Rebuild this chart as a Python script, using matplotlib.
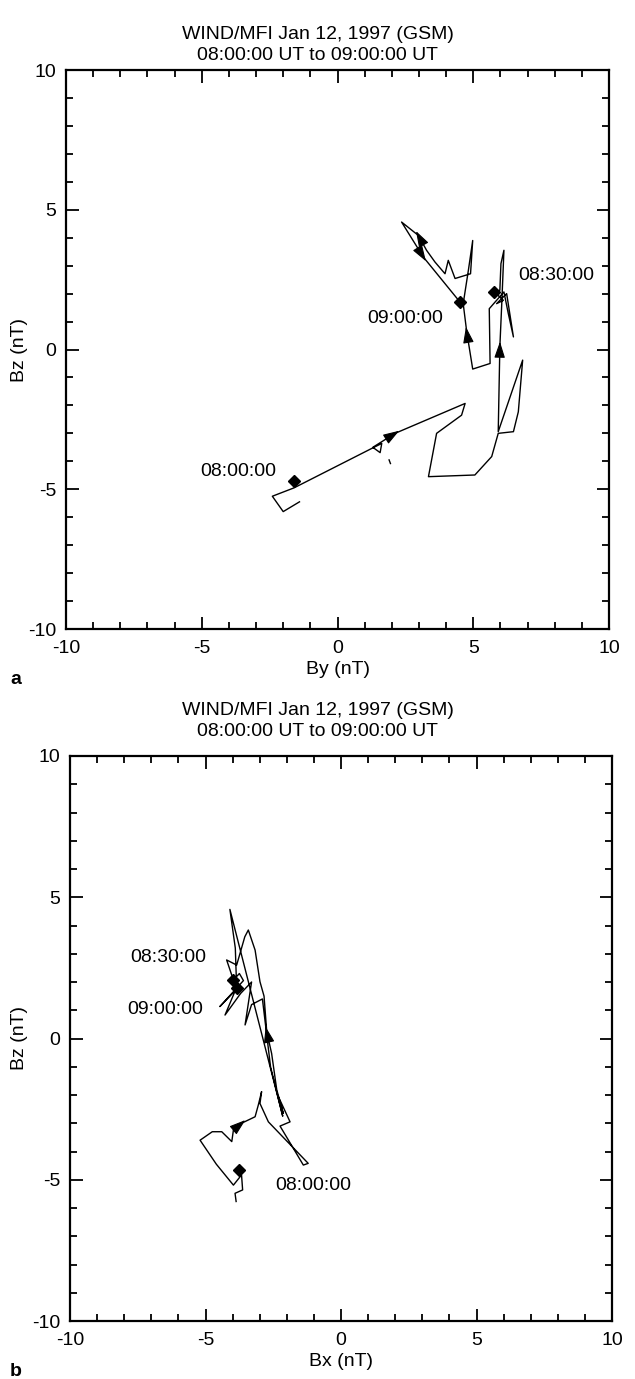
import matplotlib
matplotlib.use('Agg')
import matplotlib.pyplot as plt
from matplotlib.ticker import MultipleLocator
import numpy as np

plt.rcParams['font.family'] = ['Liberation Sans', 'DejaVu Sans']
plt.rcParams['axes.unicode_minus'] = False

# --- data (nT) ---
TITLE_1 = "WIND/MFI Jan 12, 1997 (GSM)"
TITLE_2 = "08:00:00 UT to 09:00:00 UT"

# panel a: By vs Bz trajectory, in time order
by_a = [-1.4, -2.0, -2.4, -1.6, 1.26, 1.63, 1.57, 1.30, 2.12, 4.70, 4.57, 3.65, 3.35,
        5.06, 5.68, 5.92, 6.48, 6.66, 6.82, 5.92, 5.98, 6.05, 6.13, 6.02, 5.98,
        5.78, 6.11, 5.86, 6.23, 6.48, 6.29, 6.13, 5.59, 5.62, 4.98, 4.76, 4.63,
        4.82, 4.98, 4.90, 4.33, 4.08, 3.96, 3.59, 3.28, 2.98, 2.36, 3.16, 4.51]
bz_a = [-5.45, -5.8, -5.25, -4.95, -3.54, -3.36, -3.69, -3.50, -3.0, -1.93, -2.35, -3.0, -4.55,
        -4.49, -3.83, -3.0, -2.94, -2.23, -0.38, -2.94, 0.10, 1.64, 3.55, 3.07, 2.12,
        2.06, 1.76, 1.64, 2.0, 0.45, 1.29, 2.06, 1.46, -0.5, -0.70, 0.63, 1.64,
        2.83, 3.90, 2.71, 2.54, 3.19, 2.71, 3.13, 3.55, 4.08, 4.56, 3.31, 1.70]
gap_by_a = [1.90, 1.95]                 # small stray piece of trace
gap_bz_a = [-3.95, -4.08]
arrows_a = [8, 20, 35, 45, 47]          # vertices where an arrow head sits
marks_a = {"08:00:00": (-1.6, -4.7), "08:30:00": (5.78, 2.06), "09:00:00": (4.51, 1.70)}
labels_a = {"08:00:00": (-3.66, -4.38), "08:30:00": (8.07, 2.65), "09:00:00": (2.49, 1.11)}

# panel b: Bx vs Bz trajectory, in time order
bx_b = [-3.87, -3.91, -3.63, -3.67, -3.97, -4.6, -5.2, -4.75, -4.40, -4.03, -3.97, -3.67,
        -3.17, -3.05, -2.93, -2.99, -2.68, -1.21, -1.39, -2.25, -1.88, -2.31, -2.13, -2.37,
        -2.56, -2.74, -2.84, -2.99, -3.17, -3.42, -3.55, -3.85, -4.22, -3.97, -3.75, -3.6,
        -4.47, -3.9, -4.28, -3.7, -3.3, -3.54, -3.3, -2.9, -2.6, -2.15, -4.10, -3.9, -3.85]
bz_b = [-5.77, -5.48, -5.36, -4.83, -5.19, -4.45, -3.6, -3.3, -3.30, -3.65, -3.24, -3.00,
        -2.77, -2.35, -1.88, -2.30, -2.95, -4.42, -4.48, -3.1, -2.95, -2.06, -2.65, -1.82,
        -0.53, 0.24, 1.50, 2.01, 3.13, 3.84, 3.6, 2.6, 2.78, 2.07, 2.3, 2.05,
        1.13, 1.7, 0.83, 1.6, 2.0, 0.48, 1.2, 1.4, -1.0, -2.75, 4.57, 3.2, 1.78]
arrows_b = [11, 25]
marks_b = {"08:00:00": (-3.76, -4.65), "08:30:00": (-3.97, 2.07), "09:00:00": (-3.85, 1.78)}
labels_b = {"08:00:00": (-1.03, -5.19), "08:30:00": (-6.38, 2.85), "09:00:00": (-6.49, 1.01)}

W, H = 635, 1379
fig = plt.figure(figsize=(W / 100, H / 100), dpi=100)


def draw_panel(rect, xs, ys, arrows, marks, labels, xlabel, letter, title_y, ylab_x,
               gap=None):
    ax = fig.add_axes(rect)
    ax.plot(xs, ys, color='black', lw=1.0)
    if gap is not None:
        ax.plot(gap[0], gap[1], color='black', lw=1.0)
    for i in arrows:
        # arrow head centred on vertex i, pointing along the direction of travel
        x0, y0 = xs[i - 1], ys[i - 1]
        x1, y1 = xs[i], ys[i]
        d = np.array([x1 - x0, y1 - y0])
        d = d / np.hypot(*d)
        tip = (x1 + 0.18 * d[0], y1 + 0.18 * d[1])
        tail = (x1 - 0.05 * d[0], y1 - 0.05 * d[1])
        ax.annotate('', xy=tip, xytext=tail,
                    arrowprops=dict(arrowstyle='-|>,head_length=0.9,head_width=0.3',
                                    mutation_scale=11, color='black', lw=0.8,
                                    shrinkA=0, shrinkB=0))
    for name, (mx, my) in marks.items():
        ax.plot(mx, my, marker='D', ms=6.5, color='black', mec='black')
    for name, (tx, ty) in labels.items():
        ax.text(tx, ty, name, fontsize=14, ha='center', va='center')
    ax.set_xlim(-10, 10)
    ax.set_ylim(-10, 10)
    ax.xaxis.set_major_locator(MultipleLocator(5))
    ax.yaxis.set_major_locator(MultipleLocator(5))
    ax.xaxis.set_minor_locator(MultipleLocator(1))
    ax.yaxis.set_minor_locator(MultipleLocator(1))
    ax.tick_params(which='both', direction='in', top=True, right=True, labelsize=14, width=1.3)
    ax.tick_params(which='major', length=9)
    ax.tick_params(which='minor', length=5)
    ax.tick_params(axis='x', which='major', pad=8)
    ax.tick_params(axis='y', which='major', pad=7)
    for sp in ax.spines.values():
        sp.set_linewidth(1.6)
    ax.set_xlabel(xlabel, fontsize=14, labelpad=3)
    ax.set_ylabel('Bz (nT)', fontsize=14)
    ax.yaxis.set_label_coords(ylab_x, 0.5)
    fig.text(0.5, title_y, TITLE_1 + "\n" + TITLE_2, ha='center', va='bottom',
             fontsize=14, linespacing=1.3)
    fig.text(10 / W, rect[1] - 50 / H, letter, fontsize=14, fontweight='bold',
             ha='left', va='center')
    return ax


draw_panel([66 / W, 1 - 629 / H, 543 / W, 559 / H], by_a, bz_a, arrows_a, marks_a, labels_a,
           'By (nT)', 'a', 1 - 64 / H, -0.07, gap=(gap_by_a, gap_bz_a))
draw_panel([70 / W, 1 - 1321 / H, 542 / W, 565 / H], bx_b, bz_b, arrows_b, marks_b, labels_b,
           'Bx (nT)', 'b', 1 - 740 / H, -0.078)

fig.savefig('out.png', dpi=100)
